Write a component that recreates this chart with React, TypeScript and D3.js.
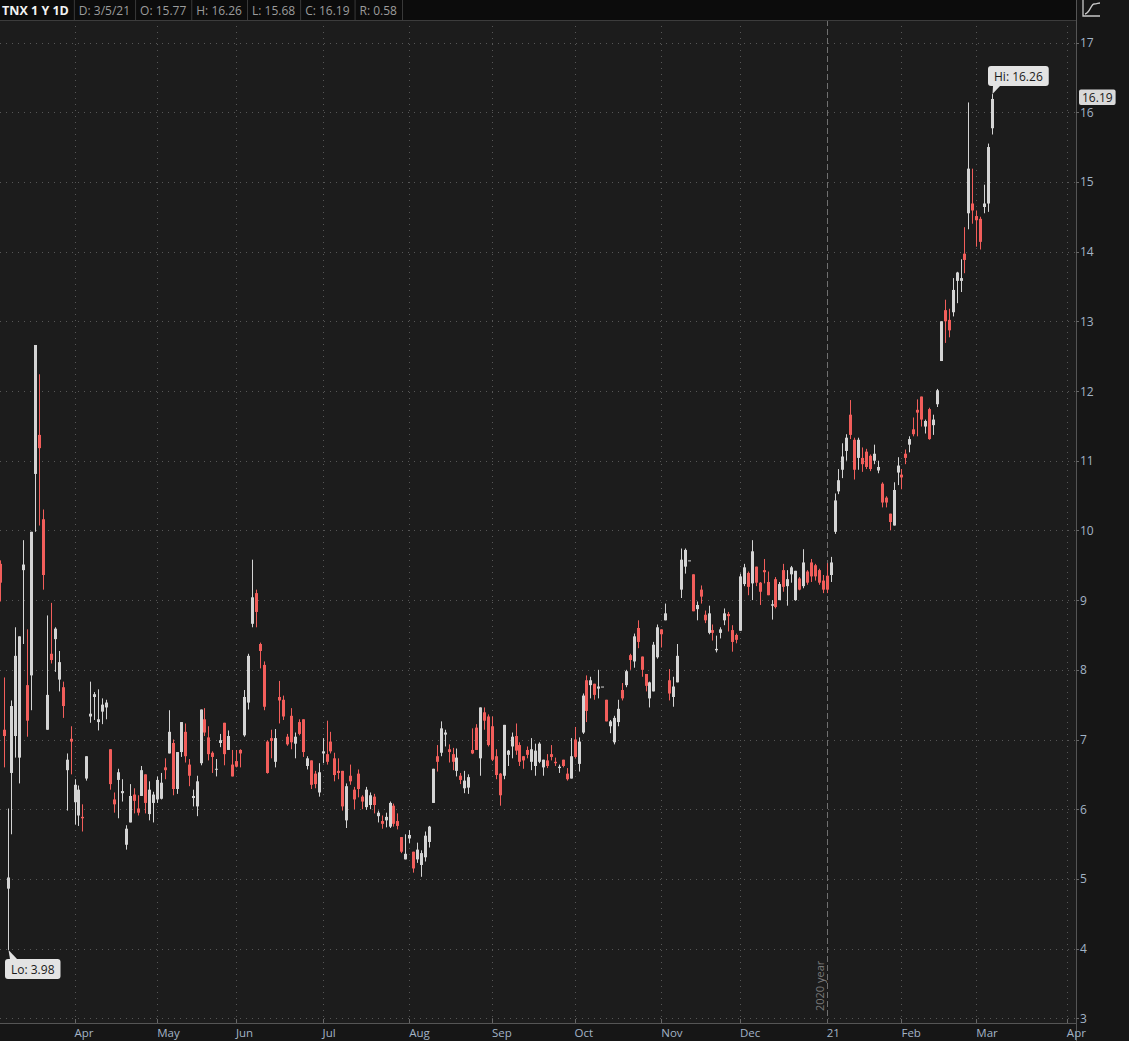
import { useEffect, useRef } from 'react';
import * as d3 from 'd3';

// one row per session: open, high, low, close
type Bar = [number, number, number, number];

const symbol = 'TNX 1 Y 1D';
const lastDate = '3/5/21';

const mar20: Bar[] = [
  [9.52, 9.57, 8.98, 9.25], [7.14, 7.89, 6.60, 7.05], [4.86, 6.01, 3.98, 5.02], [6.52, 7.56, 5.64, 7.48],
  [7.05, 8.61, 6.74, 8.20], [6.74, 8.48, 6.37, 8.48], [9.43, 9.86, 8.37, 9.51], [7.78, 8.58, 7.04, 7.27],
  [7.92, 9.98, 7.42, 9.98], [10.81, 12.66, 9.98, 12.66], [11.37, 12.24, 10.07, 11.18], [10.16, 10.30, 9.15, 9.36],
  [7.14, 8.78, 7.14, 7.64], [8.23, 8.96, 8.09, 8.14], [8.44, 8.61, 7.97, 8.59], [7.86, 8.27, 7.69, 8.11],
  [7.75, 7.83, 7.31, 7.48], [6.56, 6.80, 5.98, 6.71], [7.01, 7.19, 6.50, 6.97],
];
const apr20: Bar[] = [
  [6.10, 6.43, 5.78, 6.35], [5.91, 6.34, 5.76, 6.28], [5.89, 6.07, 5.68, 5.87], [6.44, 6.76, 6.41, 6.76],
  [7.33, 7.83, 7.24, 7.37], [7.61, 7.68, 7.28, 7.65], [7.25, 7.72, 7.13, 7.29], [7.40, 7.59, 7.22, 7.50],
  [7.46, 7.57, 7.29, 7.53], [6.86, 6.86, 6.28, 6.36], [6.14, 6.24, 5.95, 6.07], [6.42, 6.58, 5.87, 6.53],
  [6.23, 6.43, 6.11, 6.26], [5.49, 5.77, 5.42, 5.72], [5.81, 6.36, 5.81, 6.19], [6.21, 6.30, 5.94, 6.12],
  [6.01, 6.20, 5.91, 5.95], [6.19, 6.62, 6.19, 6.56], [6.50, 6.50, 5.94, 6.09], [5.93, 6.40, 5.84, 6.28],
  [6.09, 6.25, 5.81, 6.21],
];
const may20: Bar[] = [
  [6.14, 6.47, 6.09, 6.42], [6.15, 6.52, 6.14, 6.38], [6.60, 6.73, 6.43, 6.56], [6.80, 7.42, 6.80, 7.11],
  [6.95, 7.00, 6.20, 6.29], [6.29, 6.82, 6.22, 6.82], [6.82, 7.25, 6.75, 7.25], [7.11, 7.23, 6.67, 6.76],
  [6.64, 6.72, 6.33, 6.48], [6.16, 6.28, 6.04, 6.19], [6.04, 6.48, 5.90, 6.40], [6.66, 7.43, 6.63, 7.43],
  [7.29, 7.45, 7.05, 7.10], [7.03, 7.19, 6.70, 6.79], [6.81, 6.83, 6.52, 6.75], [6.57, 6.72, 6.47, 6.58],
  [6.95, 7.08, 6.89, 6.99], [7.24, 7.24, 6.63, 6.79], [6.85, 7.13, 6.85, 7.05], [6.64, 6.85, 6.47, 6.47],
];
const jun20: Bar[] = [
  [6.69, 6.85, 6.60, 6.61], [6.85, 6.86, 6.60, 6.80], [7.06, 7.71, 7.04, 7.61], [7.53, 8.23, 7.43, 8.20],
  [8.66, 9.58, 8.61, 9.04], [9.10, 9.15, 8.61, 8.83], [8.37, 8.39, 8.02, 8.27], [8.07, 8.12, 7.42, 7.47],
  [6.97, 6.99, 6.51, 6.52], [7.02, 7.14, 6.73, 6.98], [6.68, 7.15, 6.60, 7.02], [7.61, 7.84, 7.23, 7.56],
  [7.57, 7.63, 7.28, 7.33], [7.04, 7.08, 6.91, 6.93], [7.34, 7.45, 6.86, 6.96], [6.94, 7.10, 6.73, 7.04],
  [7.25, 7.29, 7.06, 7.08], [7.29, 7.29, 6.75, 6.82], [6.62, 6.76, 6.57, 6.73], [6.70, 6.70, 6.29, 6.35],
  [6.51, 6.55, 6.30, 6.36], [6.24, 6.66, 6.18, 6.53],
];
const jul20: Bar[] = [
  [6.80, 7.02, 6.66, 6.83], [6.79, 7.27, 6.64, 6.68], [6.97, 7.11, 6.80, 6.83], [6.73, 6.81, 6.40, 6.49],
  [6.55, 6.73, 6.43, 6.52], [6.55, 6.55, 5.98, 6.04], [5.84, 6.37, 5.73, 6.33], [6.48, 6.64, 6.35, 6.40],
  [6.28, 6.32, 6.00, 6.14], [6.51, 6.57, 6.17, 6.29], [6.18, 6.20, 6.00, 6.11], [6.03, 6.32, 5.99, 6.28],
  [6.06, 6.24, 6.00, 6.20], [6.18, 6.22, 5.94, 6.06], [5.90, 5.98, 5.81, 5.95], [5.83, 5.91, 5.72, 5.79],
  [5.84, 5.95, 5.74, 5.89], [5.75, 6.11, 5.73, 6.09], [6.05, 6.08, 5.75, 5.79], [5.83, 5.94, 5.71, 5.76],
  [5.60, 5.60, 5.37, 5.39], [5.28, 5.64, 5.28, 5.36],
];
const aug20: Bar[] = [
  [5.58, 5.70, 5.51, 5.63], [5.39, 5.39, 5.09, 5.15], [5.28, 5.52, 5.23, 5.42], [5.20, 5.41, 5.03, 5.37],
  [5.31, 5.68, 5.25, 5.62], [5.53, 5.76, 5.45, 5.75], [6.09, 6.58, 6.09, 6.58], [6.76, 6.92, 6.54, 6.68],
  [6.81, 7.26, 6.76, 7.16], [7.07, 7.14, 6.90, 7.10], [6.86, 6.93, 6.67, 6.82], [6.79, 6.88, 6.56, 6.68],
  [6.55, 6.87, 6.47, 6.74], [6.48, 6.52, 6.36, 6.42], [6.30, 6.55, 6.23, 6.41], [6.31, 6.50, 6.22, 6.46],
  [6.85, 7.16, 6.79, 6.80], [7.17, 7.22, 6.85, 6.85], [6.73, 7.46, 6.48, 7.46], [7.39, 7.46, 7.14, 7.27],
  [7.33, 7.36, 6.90, 6.92],
];
const sep20: Bar[] = [
  [7.19, 7.33, 6.69, 6.71], [6.76, 6.86, 6.43, 6.49], [6.51, 6.52, 6.05, 6.20], [6.48, 7.21, 6.43, 7.21],
  [6.78, 6.85, 6.62, 6.84], [6.90, 7.10, 6.73, 7.04], [7.05, 7.23, 6.78, 6.84], [6.92, 6.96, 6.62, 6.68],
  [6.76, 6.76, 6.58, 6.70], [6.85, 6.90, 6.73, 6.78], [6.68, 7.02, 6.56, 6.86], [6.62, 6.94, 6.48, 6.84],
  [6.68, 6.96, 6.66, 6.94], [6.60, 6.71, 6.48, 6.71], [6.70, 6.79, 6.59, 6.62], [6.79, 6.92, 6.70, 6.75],
  [6.68, 6.74, 6.62, 6.66], [6.59, 6.64, 6.52, 6.61], [6.71, 6.71, 6.60, 6.62], [6.51, 6.59, 6.41, 6.43],
  [6.44, 7.02, 6.44, 6.76],
];
const oct20: Bar[] = [
  [7.00, 7.18, 6.73, 6.75], [6.65, 7.03, 6.54, 6.97], [7.10, 7.66, 7.08, 7.63], [7.85, 7.92, 7.25, 7.41],
  [7.78, 7.90, 7.59, 7.85], [7.80, 7.80, 7.57, 7.64], [7.73, 8.00, 7.59, 7.76], [7.76, 7.76, 7.76, 7.76],
  [7.57, 7.57, 7.26, 7.26], [7.19, 7.28, 7.09, 7.26], [6.96, 7.34, 6.93, 7.31], [7.25, 7.57, 7.19, 7.44],
  [7.71, 7.81, 7.56, 7.59], [7.78, 8.00, 7.75, 7.98], [8.21, 8.23, 8.00, 8.14], [8.12, 8.52, 8.03, 8.48],
  [8.60, 8.71, 8.31, 8.40], [8.19, 8.19, 7.90, 8.00], [7.94, 7.94, 7.69, 7.77], [7.59, 7.83, 7.46, 7.82],
  [7.69, 8.40, 7.69, 8.36], [8.18, 8.65, 8.16, 8.61],
];
const nov20: Bar[] = [
  [8.58, 8.58, 8.32, 8.51], [8.71, 8.95, 8.71, 8.81], [7.85, 8.01, 7.56, 7.66], [7.61, 7.90, 7.47, 7.76],
  [7.82, 8.37, 7.82, 8.20], [9.15, 9.74, 9.03, 9.58], [9.48, 9.74, 9.38, 9.72], [9.57, 9.57, 9.57, 9.57],
  [9.37, 9.37, 8.84, 8.84], [8.87, 8.98, 8.71, 8.93], [9.15, 9.21, 8.95, 9.05], [8.79, 8.85, 8.67, 8.71],
  [8.53, 8.92, 8.51, 8.81], [8.57, 8.65, 8.42, 8.53], [8.28, 8.49, 8.25, 8.30], [8.53, 8.61, 8.45, 8.58],
  [8.71, 8.88, 8.64, 8.81], [8.80, 8.83, 8.55, 8.77], [8.57, 8.64, 8.26, 8.40], [8.50, 8.52, 8.38, 8.43],
];
const dec20: Bar[] = [
  [8.56, 9.38, 8.56, 9.34], [9.23, 9.52, 9.20, 9.47], [9.39, 9.41, 9.07, 9.19], [9.24, 9.86, 9.00, 9.70],
  [9.48, 9.48, 9.20, 9.25], [9.25, 9.26, 8.93, 9.12], [9.43, 9.59, 9.24, 9.40], [9.26, 9.41, 9.07, 9.07],
  [8.92, 9.00, 8.72, 8.94], [9.30, 9.33, 8.88, 8.90], [9.00, 9.26, 9.00, 9.23], [9.43, 9.52, 9.12, 9.19],
  [9.20, 9.43, 8.92, 9.30], [9.37, 9.49, 9.25, 9.47], [9.00, 9.42, 8.99, 9.42], [9.31, 9.33, 9.14, 9.15],
  [9.20, 9.73, 9.17, 9.54], [9.41, 9.43, 9.22, 9.25], [9.54, 9.59, 9.26, 9.34], [9.50, 9.52, 9.28, 9.34],
  [9.43, 9.45, 9.22, 9.25], [9.28, 9.36, 9.10, 9.15],
];
const jan21: Bar[] = [
  [9.35, 9.53, 9.10, 9.15], [9.36, 9.62, 9.26, 9.54], [9.98, 10.53, 9.95, 10.43], [10.56, 10.88, 10.52, 10.72],
  [10.87, 11.25, 10.75, 11.06], [11.14, 11.38, 11.00, 11.33], [11.66, 11.87, 11.31, 11.37], [11.30, 11.33, 10.73, 10.87],
  [11.04, 11.33, 10.87, 11.30], [11.04, 11.19, 10.84, 10.95], [11.13, 11.17, 10.88, 10.91], [11.07, 11.09, 10.85, 10.88],
  [11.00, 11.23, 10.95, 11.10], [10.86, 11.00, 10.82, 10.91], [10.67, 10.69, 10.33, 10.40], [10.47, 10.49, 10.33, 10.40],
  [10.24, 10.24, 10.00, 10.12], [10.07, 10.69, 10.07, 10.58], [10.83, 11.05, 10.65, 10.93],
];
const feb21: Bar[] = [
  [10.80, 10.88, 10.59, 10.76], [11.10, 11.16, 10.95, 11.04], [11.23, 11.35, 11.12, 11.31], [11.45, 11.62, 11.35, 11.38],
  [11.73, 11.88, 11.35, 11.69], [11.92, 11.92, 11.49, 11.59], [11.49, 11.59, 11.39, 11.57], [11.74, 11.76, 11.30, 11.31],
  [11.51, 11.66, 11.37, 11.59], [11.81, 12.03, 11.77, 12.01], [12.43, 13.00, 12.43, 13.00], [13.16, 13.31, 12.69, 13.00],
  [13.02, 13.18, 12.77, 12.87], [13.13, 13.62, 13.07, 13.45], [13.58, 13.71, 13.26, 13.70], [13.58, 13.89, 13.42, 13.62],
  [13.97, 14.35, 13.69, 13.88], [14.55, 16.14, 14.32, 15.19], [14.69, 15.19, 14.40, 14.59],
];
const mar21: Bar[] = [
  [14.51, 14.59, 14.07, 14.45], [14.47, 14.50, 14.03, 14.14], [14.64, 14.96, 14.55, 14.69], [14.69, 15.55, 14.57, 15.50],
  [15.77, 16.26, 15.68, 16.19],
];

const months = [mar20, apr20, may20, jun20, jul20, aug20, sep20, oct20, nov20, dec20, jan21, feb21, mar21];
const monthLabels = ['', 'Apr', 'May', 'Jun', 'Jul', 'Aug', 'Sep', 'Oct', 'Nov', 'Dec', '21', 'Feb', 'Mar'];
const nextMonthLabel = 'Apr';
const mar21Sessions = 23; // sessions in Mar 2021, places the empty Apr slot
const yearMonth = '21';
const yearLabel = '2020 year';
const priceTicks = d3.range(3, 18);

const W = 1129;
const H = 1041;
const plotRight = 1076;
const plotTop = 20;
const plotBottom = 1023;

const upColor = '#d4d4d4';
const downColor = '#f25e5b';
const axisText = '#a3b4c6';
const gridColor = '#565656';
const font = '"Open Sans", Roboto, sans-serif';

const App = () => {
  const ref = useRef<SVGSVGElement | null>(null);

  useEffect(() => {
    if (!ref.current) return;
    const svg = d3.select(ref.current);
    svg.selectAll('*').remove();

    // flatten months into sessions
    const starts: number[] = [];
    const bars: { i: number; o: number; h: number; l: number; c: number }[] = [];
    months.forEach(m => {
      starts.push(bars.length);
      m.forEach(([o, h, l, c]) => bars.push({ i: bars.length, o, h, l, c }));
    });
    starts.push(starts[starts.length - 1] + mar21Sessions);
    const ticks = starts.slice(1).map((s, k) => ({ i: s, label: k < monthLabels.length - 1 ? monthLabels[k + 1] : nextMonthLabel }));

    const x = d3.scaleLinear().domain([starts[1], starts[12]]).range([74.5, 976.3]);
    const y = d3.scaleLinear().domain([3, 17]).range([1018.3, 42.5]);

    // backgrounds
    svg.append('rect').attr('width', W).attr('height', H).attr('fill', '#161616');
    svg.append('rect').attr('x', 0).attr('y', plotTop).attr('width', plotRight).attr('height', plotBottom - plotTop).attr('fill', '#1c1c1c');
    svg.append('rect').attr('x', 0).attr('y', 0).attr('width', plotRight).attr('height', plotTop).attr('fill', '#0c0c0c');

    svg.append('clipPath').attr('id', 'plot-clip')
      .append('rect').attr('x', 0).attr('y', plotTop).attr('width', plotRight).attr('height', plotBottom - plotTop);
    const plot = svg.append('g').attr('clip-path', 'url(#plot-clip)');

    // grid
    plot.selectAll('line.hgrid').data(priceTicks).enter().append('line')
      .attr('x1', 0).attr('x2', plotRight)
      .attr('y1', d => Math.round(y(d)) + 0.5).attr('y2', d => Math.round(y(d)) + 0.5)
      .attr('stroke', gridColor).attr('stroke-dasharray', '1 5');
    plot.selectAll('line.vgrid').data(ticks.filter(t => t.label !== yearMonth)).enter().append('line')
      .attr('x1', d => Math.round(x(d.i)) + 0.5).attr('x2', d => Math.round(x(d.i)) + 0.5)
      .attr('y1', plotTop).attr('y2', plotBottom)
      .attr('stroke', gridColor).attr('stroke-dasharray', '1 5');

    // year divider
    const yearTick = ticks.find(t => t.label === yearMonth)!;
    const yx = Math.round(x(yearTick.i)) + 0.5;
    plot.append('line')
      .attr('x1', yx).attr('x2', yx).attr('y1', plotTop).attr('y2', plotBottom)
      .attr('stroke', '#707070').attr('stroke-dasharray', '6 3');
    plot.append('text')
      .attr('transform', `translate(${yx - 4}, ${plotBottom - 12}) rotate(-90)`)
      .attr('font-family', font).attr('font-size', 11).attr('fill', '#7a7a7a')
      .text(yearLabel);

    // candles
    const g = plot.selectAll('g.bar').data(bars).enter().append('g');
    g.append('line')
      .attr('x1', d => Math.round(x(d.i)) + 0.5).attr('x2', d => Math.round(x(d.i)) + 0.5)
      .attr('y1', d => y(d.h)).attr('y2', d => y(d.l))
      .attr('stroke', d => (d.c >= d.o ? upColor : downColor));
    g.append('rect')
      .attr('x', d => Math.round(x(d.i)) - 1)
      .attr('y', d => y(Math.max(d.o, d.c)))
      .attr('width', 3)
      .attr('height', d => Math.max(1, Math.abs(y(d.o) - y(d.c))))
      .attr('fill', d => (d.c >= d.o ? upColor : downColor));

    // hi / lo bubbles
    const hiBar = bars.reduce((a, b) => (b.h > a.h ? b : a));
    const loBar = bars.reduce((a, b) => (b.l < a.l ? b : a));
    const bubble = (px: number, py: number, bx: number, by: number, text: string, below: boolean) => {
      const t = plot.append('text').attr('font-family', font).attr('font-size', 12).attr('fill', '#1a1a1a').text(text);
      const w = (t.node() as SVGTextElement).getComputedTextLength() + 12;
      const h = 20;
      const tipY = below ? by : by + h;
      plot.insert('path', () => t.node())
        .attr('d', `M${px},${py} L${bx + 5},${tipY} L${bx + 12},${tipY} Z`)
        .attr('fill', '#e3e3e3');
      plot.insert('rect', () => t.node())
        .attr('x', bx).attr('y', by).attr('width', w).attr('height', h).attr('rx', 3)
        .attr('fill', '#e3e3e3');
      t.attr('x', bx + 6).attr('y', by + 14.5);
    };
    bubble(Math.round(x(hiBar.i)) + 0.5, y(hiBar.h), 988, 66, `Hi: ${hiBar.h.toFixed(2)}`, false);
    bubble(Math.round(x(loBar.i)) + 0.5, y(loBar.l), 5, 959, `Lo: ${loBar.l.toFixed(2)}`, true);

    // frame lines
    svg.append('line').attr('x1', 0).attr('x2', plotRight).attr('y1', plotTop + 0.5).attr('y2', plotTop + 0.5).attr('stroke', '#3c3c3c');
    svg.append('line').attr('x1', plotRight + 0.5).attr('x2', plotRight + 0.5).attr('y1', 0).attr('y2', H).attr('stroke', '#555');
    svg.append('line').attr('x1', 0).attr('x2', plotRight).attr('y1', plotBottom + 0.5).attr('y2', plotBottom + 0.5).attr('stroke', '#555');

    // price axis
    const ax = svg.append('g');
    ax.selectAll('line').data(priceTicks).enter().append('line')
      .attr('x1', plotRight).attr('x2', plotRight + 3)
      .attr('y1', d => Math.round(y(d)) + 0.5).attr('y2', d => Math.round(y(d)) + 0.5)
      .attr('stroke', '#666');
    ax.selectAll('text').data(priceTicks).enter().append('text')
      .attr('x', plotRight + 4).attr('y', d => y(d) + 4.5)
      .attr('font-family', font).attr('font-size', 12).attr('fill', axisText)
      .text(d => d);

    // last price tag
    const last = bars[bars.length - 1];
    const lt = svg.append('text').attr('font-family', font).attr('font-size', 12).attr('fill', '#1a1a1a')
      .attr('x', plotRight + 6).attr('y', y(last.c) + 3).text(last.c.toFixed(2));
    const lw = (lt.node() as SVGTextElement).getComputedTextLength() + 6;
    svg.insert('rect', () => lt.node())
      .attr('x', plotRight + 3).attr('y', y(last.c) - 9.5).attr('width', lw).attr('height', 15.5).attr('rx', 2)
      .attr('fill', '#d9d9d9');

    // time axis
    svg.selectAll('line.mt').data(ticks).enter().append('line')
      .attr('x1', d => Math.round(x(d.i)) + 0.5).attr('x2', d => Math.round(x(d.i)) + 0.5)
      .attr('y1', plotBottom - 4).attr('y2', plotBottom)
      .attr('stroke', '#666');
    svg.selectAll('text.mt').data(ticks).enter().append('text')
      .attr('x', d => x(d.i)).attr('y', 1037)
      .attr('font-family', font).attr('font-size', 11.5).attr('fill', axisText)
      .text(d => d.label);

    // header strip
    const hdr = svg.append('g');
    const fields = [
      `D: ${lastDate}`,
      `O: ${last.o.toFixed(2)}`,
      `H: ${last.h.toFixed(2)}`,
      `L: ${last.l.toFixed(2)}`,
      `C: ${last.c.toFixed(2)}`,
      `R: ${(last.h - last.l).toFixed(2)}`,
    ];
    const title = hdr.append('text').attr('x', 2).attr('y', 14.5)
      .attr('font-family', font).attr('font-size', 12.5).attr('font-weight', 'bold').attr('fill', '#f2f2f2')
      .text(symbol);
    let cx = 2 + (title.node() as SVGTextElement).getComputedTextLength() + 5;
    fields.forEach(f => {
      hdr.append('line').attr('x1', cx + 0.5).attr('x2', cx + 0.5).attr('y1', 0).attr('y2', plotTop).attr('stroke', '#3a3a3a');
      const t = hdr.append('text').attr('x', cx + 5).attr('y', 14.5)
        .attr('font-family', font).attr('font-size', 12).attr('fill', '#9c9c9c').text(f);
      cx += (t.node() as SVGTextElement).getComputedTextLength() + 10;
    });
    hdr.append('line').attr('x1', cx + 0.5).attr('x2', cx + 0.5).attr('y1', 0).attr('y2', plotTop).attr('stroke', '#3a3a3a');

    // corner icon
    const icon = svg.append('g').attr('stroke', '#c8c8c8').attr('fill', 'none').attr('stroke-width', 1.3);
    icon.append('path').attr('d', 'M1083,0 L1083,16 L1100,16');
    icon.append('path').attr('d', 'M1085,14 C1090,13 1091,4 1094,4 C1097,4 1098,3 1100,3');
  }, []);

  return (
    <svg ref={ref} width={W} height={H} style={{ position: 'absolute', left: 0, top: 0, display: 'block' }} />
  );
};

export default App;
